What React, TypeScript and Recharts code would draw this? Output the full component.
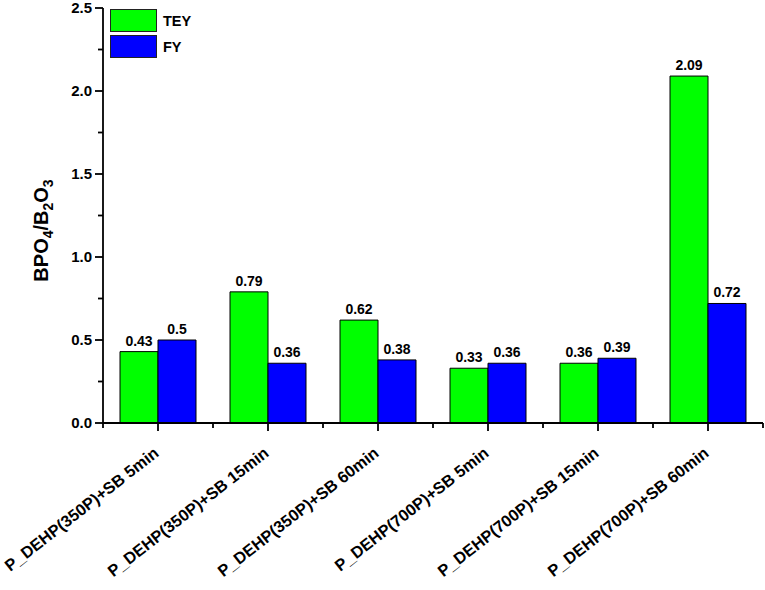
import React from 'react';
import { BarChart, Bar, XAxis, YAxis, Legend, LabelList } from 'recharts';

const categories = [
  'P_DEHP(350P)+SB 5min',
  'P_DEHP(350P)+SB 15min',
  'P_DEHP(350P)+SB 60min',
  'P_DEHP(700P)+SB 5min',
  'P_DEHP(700P)+SB 15min',
  'P_DEHP(700P)+SB 60min',
];
const teyValues = [0.43, 0.79, 0.62, 0.33, 0.36, 2.09];
const fyValues = [0.5, 0.36, 0.38, 0.36, 0.39, 0.72];
const yTicks = [0, 0.25, 0.5, 0.75, 1, 1.25, 1.5, 1.75, 2, 2.25, 2.5];
const seriesNames = ['TEY', 'FY'];
const seriesColors = ['#00ff00', '#0000ff'];

const data = categories.map((name, i) => ({ name, TEY: teyValues[i], FY: fyValues[i] }));

const FONT = 'Arial, "Liberation Sans", sans-serif';

const YTick = (props: any) => {
  const { x, y, payload } = props;
  const v = payload.value;
  const major = Math.abs(v * 2 - Math.round(v * 2)) < 1e-6;
  return (
    <g>
      <line x1={x - (major ? 8 : 5)} x2={x} y1={y} y2={y} stroke="#000" strokeWidth={1.8} />
      {major && (
        <text x={x - 11} y={y} dy={5} textAnchor="end" fontSize={15} fontWeight="bold" fontFamily={FONT} fill="#000">
          {v.toFixed(1)}
        </text>
      )}
    </g>
  );
};

const XTick = (props: any) => {
  const { x, y, payload } = props;
  const half = payload.offset || 55;
  const isLast = payload.value === categories[categories.length - 1];
  return (
    <g>
      <line x1={x} x2={x} y1={y} y2={y + 8} stroke="#000" strokeWidth={1.8} />
      <line x1={x - half} x2={x - half} y1={y} y2={y + 5} stroke="#000" strokeWidth={1.8} />
      {isLast && <line x1={x + half} x2={x + half} y1={y} y2={y + 5} stroke="#000" strokeWidth={1.8} />}
      <text
        transform={`translate(${x + 2},${y + 32}) rotate(-38)`}
        textAnchor="end"
        fontSize={16.4}
        fontWeight="bold"
        fontFamily={FONT}
        fill="#000"
      >
        {payload.value}
      </text>
    </g>
  );
};

const YLabel = (props: any) => {
  const vb = props.viewBox || {};
  const cx = 48;
  const cy = (vb.y || 0) + (vb.height || 0) / 2 + 15;
  return (
    <text
      x={cx}
      y={cy}
      transform={`rotate(-90, ${cx}, ${cy})`}
      textAnchor="middle"
      fontSize={20}
      fontWeight="bold"
      fontFamily={FONT}
      fill="#000"
    >
      BPO<tspan fontSize={14} dy={5}>4</tspan>
      <tspan dy={-5}>/B</tspan>
      <tspan fontSize={14} dy={5}>2</tspan>
      <tspan dy={-5}>O</tspan>
      <tspan fontSize={14} dy={5}>3</tspan>
    </text>
  );
};

const renderLegend = () => (
  <div style={{ fontFamily: FONT, fontWeight: 'bold', fontSize: 14.5, color: '#000' }}>
    {seriesNames.map((n, i) => (
      <div key={n} style={{ display: 'flex', alignItems: 'center', height: 23, marginBottom: 3 }}>
        <span
          style={{
            display: 'inline-block',
            width: 47,
            height: 23,
            background: seriesColors[i],
            border: '1px solid #222',
            boxSizing: 'border-box',
            marginRight: 6,
          }}
        />
        {n}
      </div>
    ))}
  </div>
);

export default function App() {
  return (
    <div style={{ position: 'absolute', left: 0, top: 0, background: '#fff' }}>
      <BarChart
        width={765}
        height={590}
        data={data}
        margin={{ top: 8, right: 2, left: 0, bottom: 0 }}
        barCategoryGap={17}
        barGap={0}
      >
        <XAxis
          dataKey="name"
          height={167}
          interval={0}
          tickLine={false}
          tickSize={0}
          tickMargin={0}
          axisLine={{ stroke: '#000', strokeWidth: 1.8 }}
          tick={<XTick />}
        />
        <YAxis
          width={103}
          domain={[0, 2.5]}
          ticks={yTicks}
          interval={0}
          tickLine={false}
          tickSize={0}
          tickMargin={0}
          axisLine={{ stroke: '#000', strokeWidth: 1.8 }}
          tick={<YTick />}
          label={<YLabel />}
        />
        <Legend
          layout="vertical"
          align="center"
          verticalAlign="middle"
          content={renderLegend}
          wrapperStyle={{ top: 9, left: 110, width: 'auto', height: 'auto' }}
        />
        <Bar dataKey="TEY" fill={seriesColors[0]} stroke="#000" strokeWidth={1} isAnimationActive={false}>
          <LabelList dataKey="TEY" position="top" offset={6} fill="#000" fontSize={14} fontWeight="bold" fontFamily={FONT} />
        </Bar>
        <Bar dataKey="FY" fill={seriesColors[1]} stroke="#000" strokeWidth={1} isAnimationActive={false}>
          <LabelList dataKey="FY" position="top" offset={6} fill="#000" fontSize={14} fontWeight="bold" fontFamily={FONT} />
        </Bar>
      </BarChart>
    </div>
  );
}
